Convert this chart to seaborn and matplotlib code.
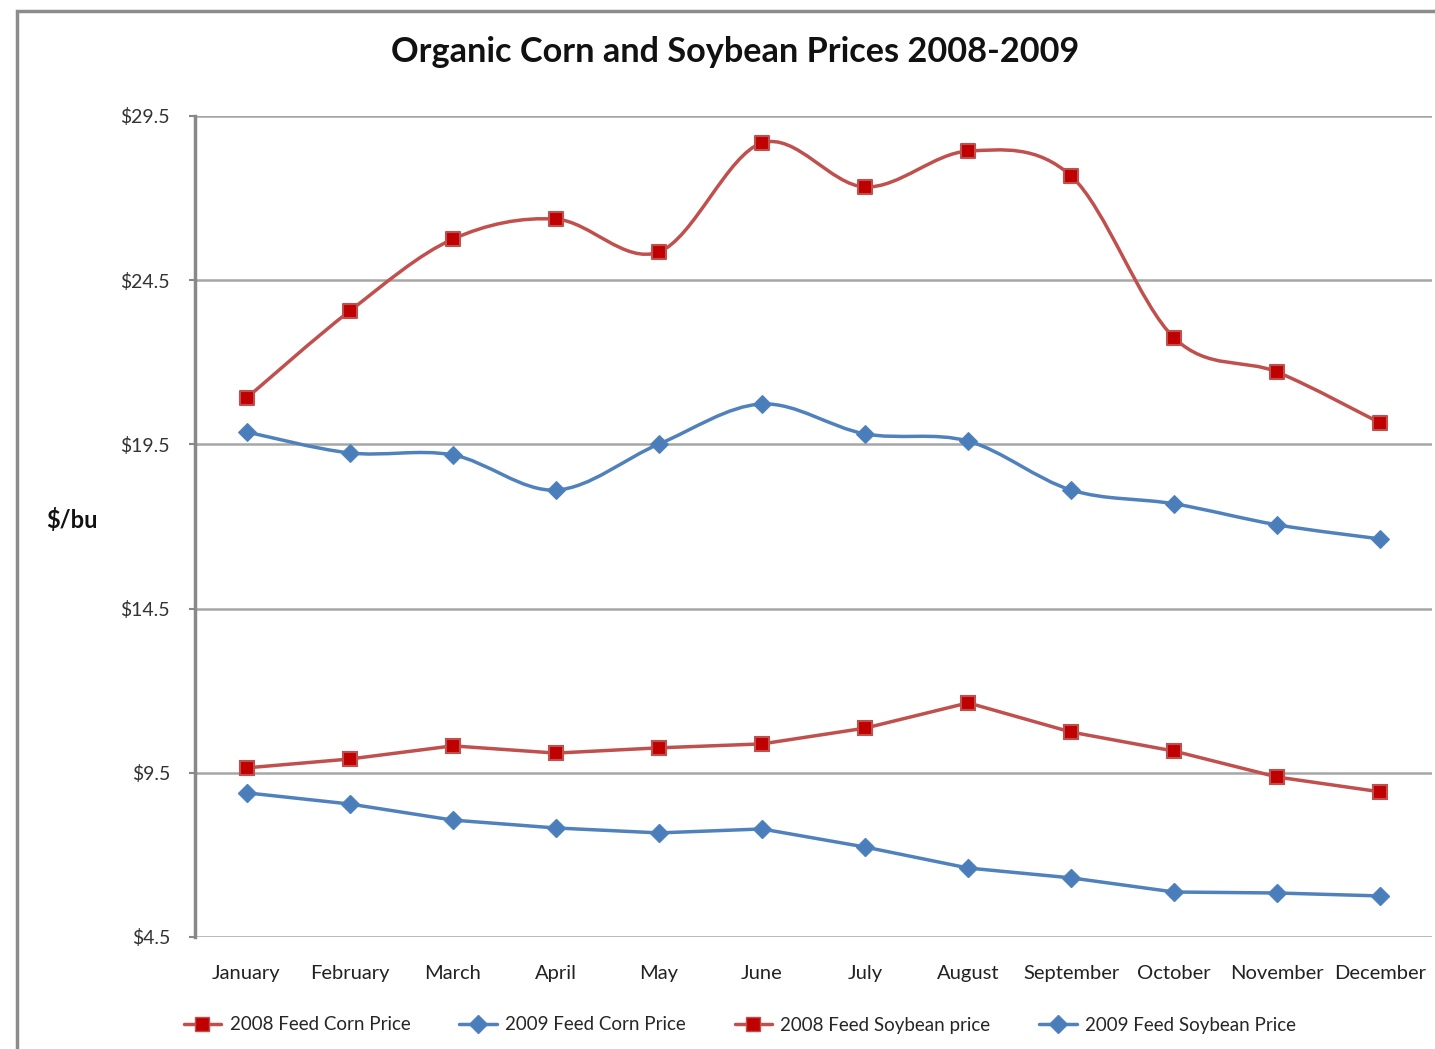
import numpy as np
import matplotlib
matplotlib.use("Agg")
import matplotlib.pyplot as plt
import seaborn as sns
from matplotlib.path import Path
from matplotlib.patches import PathPatch, Rectangle
from matplotlib.lines import Line2D

# data
months = ["January", "February", "March", "April", "May", "June",
          "July", "August", "September", "October", "November", "December"]
corn_2008 = [9.65, 9.92, 10.32, 10.10, 10.26, 10.38, 10.86, 11.63, 10.74, 10.16, 9.37, 8.92]
corn_2009 = [8.89, 8.55, 8.06, 7.82, 7.67, 7.79, 7.24, 6.60, 6.30, 5.87, 5.84, 5.75]
soy_2008 = [20.91, 23.56, 25.75, 26.36, 25.36, 28.68, 27.34, 28.43, 27.67, 22.74, 21.70, 20.15]
soy_2009 = [19.88, 19.24, 19.18, 18.11, 19.51, 20.73, 19.82, 19.60, 18.11, 17.69, 17.05, 16.62]
y_ticks = [4.5, 9.5, 14.5, 19.5, 24.5, 29.5]

RED_LINE = "#C0504D"
RED_MARK = "#C00000"
BLUE_LINE = "#4F81BD"
BLUE_MARK = "#4A7EBB"

sns.set_theme(style="white")
plt.rcParams["font.family"] = ["Lato", "DejaVu Sans"]

fig = plt.figure(figsize=(14.35, 10.49), dpi=100)
ax = fig.add_axes([195 / 1435, 1 - 937 / 1049, (1432 - 195) / 1435, (937 - 116) / 1049])

x = np.arange(len(months))


def smooth_path(xs, ys):
    # Excel-style smoothed line: Catmull-Rom as cubic Bezier segments
    pts = np.column_stack([xs, ys]).astype(float)
    n = len(pts)
    verts = [pts[0]]
    codes = [Path.MOVETO]
    for i in range(n - 1):
        p0 = pts[max(i - 1, 0)]
        p1 = pts[i]
        p2 = pts[i + 1]
        p3 = pts[min(i + 2, n - 1)]
        c1 = p1 + (p2 - p0) / 6.0
        c2 = p2 - (p3 - p1) / 6.0
        verts += [c1, c2, p2]
        codes += [Path.CURVE4] * 3
    return Path(verts, codes)


# straight corn lines
sns.lineplot(x=x, y=corn_2008, ax=ax, color=RED_LINE, lw=2.5, marker="s",
             markersize=10, markerfacecolor=RED_MARK, markeredgecolor=RED_LINE,
             markeredgewidth=1.5, zorder=3)
sns.lineplot(x=x, y=corn_2009, ax=ax, color=BLUE_LINE, lw=2.5, marker="D",
             markersize=9, markerfacecolor=BLUE_MARK, markeredgecolor=BLUE_LINE,
             markeredgewidth=1, zorder=3)

# smoothed soybean lines
ax.add_patch(PathPatch(smooth_path(x, soy_2008), facecolor="none",
                       edgecolor=RED_LINE, lw=2.5, zorder=3))
ax.add_patch(PathPatch(smooth_path(x, soy_2009), facecolor="none",
                       edgecolor=BLUE_LINE, lw=2.5, zorder=3))
sns.scatterplot(x=x, y=soy_2008, ax=ax, marker="s", s=100, color=RED_MARK,
                edgecolor=RED_LINE, linewidth=1.5, zorder=4)
sns.scatterplot(x=x, y=soy_2009, ax=ax, marker="D", s=80, color=BLUE_MARK,
                edgecolor=BLUE_LINE, linewidth=1, zorder=4)

ax.set_xlim(-0.5, len(months) - 0.5)
ax.set_ylim(4.5, 29.5)
ax.set_yticks(y_ticks)
ax.set_yticklabels([f"${v:.1f}" for v in y_ticks], fontsize=14, color="#333333")
ax.set_xticks(x)
ax.set_xticklabels(months, fontsize=14.5, color="#222222")
ax.tick_params(axis="x", length=0, pad=20)
ax.tick_params(axis="y", length=4, width=1.5, color="#888888", left=True, pad=14)

ax.yaxis.grid(True, color="#A6A6A6", lw=1.8)
ax.set_axisbelow(True)
for side in ["top", "right", "bottom"]:
    ax.spines[side].set_visible(False)
ax.spines["left"].set_color("#888888")
ax.spines["left"].set_linewidth(2.5)

fig.text(735 / 1435, 1 - 52 / 1049, "Organic Corn and Soybean Prices 2008-2009",
         ha="center", va="center", fontsize=24.7, fontweight="bold", color="#111111")
fig.text(72 / 1435, 1 - 520 / 1049, "$/bu", ha="center", va="center",
         fontsize=17, fontweight="bold", color="#111111")

handles = [
    Line2D([], [], color=RED_LINE, lw=2.5, marker="s", markersize=10,
           markerfacecolor=RED_MARK, markeredgecolor=RED_LINE),
    Line2D([], [], color=BLUE_LINE, lw=2.5, marker="D", markersize=9,
           markerfacecolor=BLUE_MARK, markeredgecolor=BLUE_LINE),
    Line2D([], [], color=RED_LINE, lw=2.5, marker="s", markersize=10,
           markerfacecolor=RED_MARK, markeredgecolor=RED_LINE),
    Line2D([], [], color=BLUE_LINE, lw=2.5, marker="D", markersize=9,
           markerfacecolor=BLUE_MARK, markeredgecolor=BLUE_LINE),
]
labels = ["2008 Feed Corn Price", "2009 Feed Corn Price",
          "2008 Feed Soybean price", "2009 Feed Soybean Price"]
fig.legend(handles, labels, loc="center", bbox_to_anchor=(740 / 1435, 1 - 1025 / 1049),
           ncol=4, frameon=False, fontsize=13.5, handlelength=2.0, handletextpad=0.45,
           columnspacing=2.6)

# outer chart border (cropped on right/bottom in the reference)
fig.patches.append(Rectangle((17 / 1435, -0.05), 1.1, 1 - 11 / 1049 + 0.05,
                             transform=fig.transFigure, fill=False,
                             edgecolor="#8C8C8C", lw=2.5))

fig.savefig("out.png", dpi=100)
